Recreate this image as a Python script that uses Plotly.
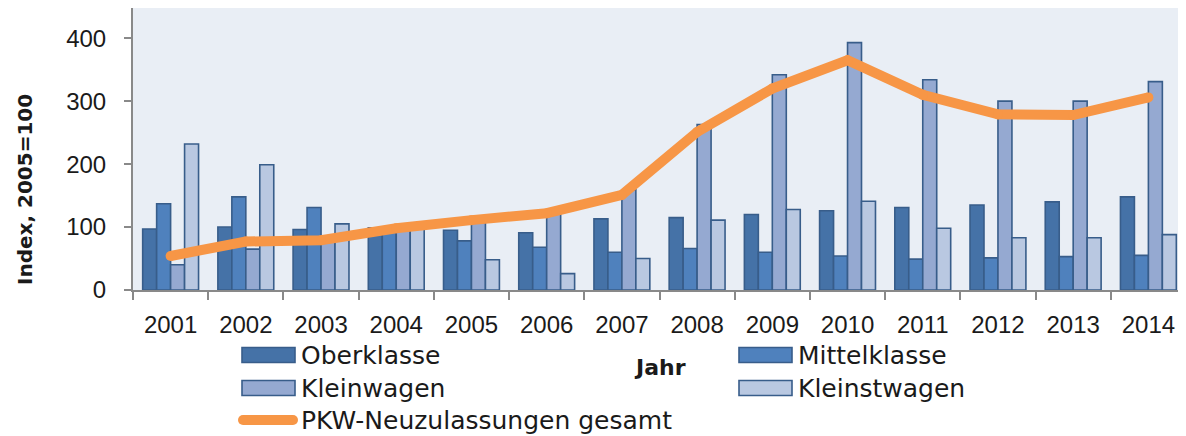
import plotly.graph_objects as go

years = ["2001", "2002", "2003", "2004", "2005", "2006", "2007",
         "2008", "2009", "2010", "2011", "2012", "2013", "2014"]
oberklasse = [97, 100, 96, 99, 95, 91, 113, 115, 120, 126, 131, 135, 140, 148]
mittelklasse = [137, 148, 131, 97, 78, 68, 60, 66, 60, 54, 49, 51, 53, 55]
kleinwagen = [40, 65, 80, 97, 113, 128, 159, 263, 342, 393, 334, 300, 300, 331]
kleinstwagen = [232, 199, 105, 97, 48, 26, 50, 111, 128, 141, 98, 83, 83, 88]
gesamt = [54, 77, 79, 98, 111, 122, 151, 251, 320, 365, 310, 279, 278, 306]

bar_names = ["Oberklasse", "Mittelklasse", "Kleinwagen", "Kleinstwagen"]
bar_colors = ["#4572A7", "#4F81BD", "#95A9D1", "#B9C8E1"]
line_name = "PKW-Neuzulassungen gesamt"
line_color = "#F79646"
outline = "#385D8A"
axis_color = "#898989"
text_color = "#1A1A1A"

# The page body adds an 8px offset; work in screen pixels and convert.
OFF = 8
W, H = 1186 - OFF, 436 - OFF
L, R, T, B = 133 - OFF, 1186 - OFF, 0, 290 - OFF


def px(x):
    return (x - OFF - L) / (R - L)


def py(y):
    return (B - (y - OFF)) / (B - T)


fig = go.Figure()
for name, vals, col in zip(bar_names, [oberklasse, mittelklasse, kleinwagen, kleinstwagen], bar_colors):
    fig.add_trace(go.Bar(
        x=years, y=vals, name=name, showlegend=False,
        marker=dict(color=col, line=dict(color=outline, width=1.6)),
    ))

fig.add_trace(go.Scatter(
    x=years, y=gesamt, name=line_name, mode="lines+markers", showlegend=False,
    line=dict(color=line_color, width=10),
    marker=dict(color=line_color, size=10, line=dict(width=0)),
))

fig.update_layout(
    width=W, height=H,
    margin=dict(l=L, r=W - R, t=T, b=H - B),
    paper_bgcolor="white",
    plot_bgcolor="#E9EEF5",
    barmode="group",
    bargap=0.257,
    bargroupgap=0,
    font=dict(family="Liberation Sans", size=24, color=text_color),
)

fig.update_xaxes(
    type="category",
    range=[-0.5, len(years) - 0.5],
    showline=True, linecolor=axis_color, linewidth=2,
    ticks="outside", ticklen=8, tickwidth=2, tickcolor=axis_color,
    tickson="boundaries",
    showgrid=False,
    tickfont=dict(family="Liberation Sans", size=24, color=text_color),
    ticklabelstandoff=12,
)
fig.update_yaxes(
    range=[0, 448],
    tickvals=[0, 100, 200, 300, 400],
    showline=True, linecolor=axis_color, linewidth=2,
    ticks="outside", ticklen=7, tickwidth=2, tickcolor=axis_color,
    showgrid=False, zeroline=False,
    tickfont=dict(family="Liberation Sans", size=24, color=text_color),
    ticklabelstandoff=13,
)

# Axis titles
fig.add_annotation(
    text="<b>Index, 2005=100</b>", textangle=-90,
    x=px(25), y=py(190), xref="paper", yref="paper",
    showarrow=False, xanchor="center", yanchor="middle",
    font=dict(family="DejaVu Sans", size=20, color=text_color),
)
fig.add_annotation(
    text="<b>Jahr</b>",
    x=px(660), y=py(367), xref="paper", yref="paper",
    showarrow=False, xanchor="center", yanchor="middle",
    font=dict(family="DejaVu Sans", size=22, color=text_color),
)

# Manual legend
legend_items = [
    (bar_names[0], bar_colors[0], 242, 355),
    (bar_names[1], bar_colors[1], 739, 355),
    (bar_names[2], bar_colors[2], 242, 388),
    (bar_names[3], bar_colors[3], 739, 388),
]
for name, col, x0, yc in legend_items:
    fig.add_shape(
        type="rect", xref="paper", yref="paper",
        x0=px(x0), x1=px(x0 + 53), y0=py(yc - 7.5), y1=py(yc + 7.5),
        fillcolor=col, line=dict(color=outline, width=1.6), layer="above",
    )
    fig.add_annotation(
        text=name, x=px(x0 + 57), y=py(yc), xref="paper", yref="paper",
        showarrow=False, xanchor="left", yanchor="middle",
        font=dict(family="DejaVu Sans", size=25, color=text_color),
    )

# line legend entry
ly = 420
fig.add_shape(type="line", xref="paper", yref="paper",
              x0=px(243), x1=px(293), y0=py(ly), y1=py(ly),
              line=dict(color=line_color, width=10), layer="above")
for cx in (243, 293):
    fig.add_shape(type="circle", xref="paper", yref="paper",
                  x0=px(cx - 5), x1=px(cx + 5), y0=py(ly - 5), y1=py(ly + 5),
                  fillcolor=line_color, line=dict(width=0), layer="above")
fig.add_annotation(
    text=line_name, x=px(299), y=py(ly), xref="paper", yref="paper",
    showarrow=False, xanchor="left", yanchor="middle",
    font=dict(family="DejaVu Sans", size=25, color=text_color),
)

fig.write_html("out.html")
